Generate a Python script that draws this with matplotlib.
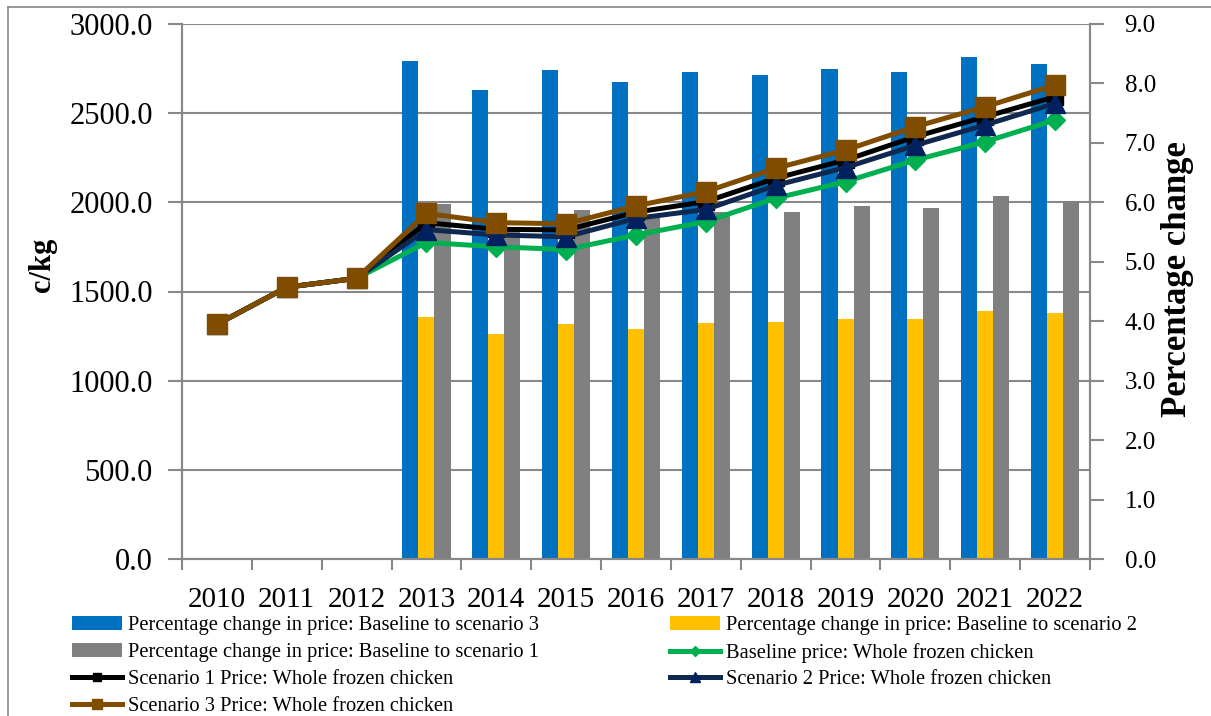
import matplotlib
matplotlib.use("Agg")
import matplotlib.pyplot as plt
from matplotlib.lines import Line2D
import numpy as np

years = ["2010", "2011", "2012", "2013", "2014", "2015", "2016",
         "2017", "2018", "2019", "2020", "2021", "2022"]
bar_start = 3  # percentage-change bars only from 2013

# percentage change (right axis)
pct_s3 = [8.37, 7.89, 8.23, 8.02, 8.19, 8.14, 8.24, 8.19, 8.44, 8.32]
pct_s2 = [4.07, 3.79, 3.95, 3.87, 3.97, 3.98, 4.04, 4.04, 4.17, 4.13]
pct_s1 = [5.98, 5.55, 5.87, 5.77, 5.83, 5.84, 5.94, 5.91, 6.10, 6.02]

# prices c/kg (left axis)
price_base = [1316, 1524, 1574, 1775, 1751, 1735, 1817, 1892, 2023, 2116, 2237, 2340, 2462]
price_s1 = [1316, 1524, 1574, 1886, 1849, 1845, 1945, 2004, 2135, 2237, 2368, 2480, 2592]
price_s2 = [1316, 1524, 1574, 1847, 1817, 1807, 1910, 1960, 2095, 2195, 2320, 2434, 2555]
price_s3 = [1316, 1524, 1574, 1938, 1886, 1880, 1980, 2060, 2191, 2293, 2424, 2536, 2658]

plt.rcParams['font.family'] = ['Liberation Serif', 'DejaVu Serif']
GRID = '#888888'

W, H = 1211, 716
fig = plt.figure(figsize=(W / 100, H / 100), dpi=100)
ax = fig.add_axes([182 / W, 1 - 559 / H, (1090 - 182) / W, (559 - 24) / H])
ax2 = ax.twinx()
# lines (left axis) must sit above the bars (right axis)
ax.set_zorder(ax2.get_zorder() + 1)
ax.patch.set_visible(False)

x = np.arange(len(years))
xb = x[bar_start:]
bw = 0.23
b3 = ax2.bar(xb - bw, pct_s3, bw, color='#0070C0', zorder=2)
b2 = ax2.bar(xb, pct_s2, bw, color='#FFC000', zorder=2)
b1 = ax2.bar(xb + bw, pct_s1, bw, color='#808080', zorder=2)

lw = 3.6
l0, = ax.plot(x, price_base, color='#00B050', lw=lw, marker='D', ms=10, zorder=3)
l1, = ax.plot(x, price_s1, color='#000000', lw=lw, marker='s', ms=12, zorder=4)
l2, = ax.plot(x, price_s2, color='#0F2850', lw=lw, marker='^', ms=14,
              mfc='#002060', mec='#002060', zorder=5)
l3, = ax.plot(x, price_s3, color='#7F4C00', lw=lw, marker='s', ms=15, zorder=6)

ax.set_ylim(0, 3000)
ax.set_yticks(np.arange(0, 3001, 500))
ax.set_yticklabels([f"{v:.1f}" for v in np.arange(0, 3001, 500)])
ax2.set_ylim(0, 9)
ax2.set_yticks(np.arange(0, 9.1, 1))
ax2.set_yticklabels([f"{v:.1f}" for v in np.arange(0, 9.1, 1)])

# horizontal gridlines at the left axis ticks, drawn behind the bars
for t in ax.get_yticks():
    ax2.axhline(t * 9 / 3000, color=GRID, lw=1.5, zorder=0)

ax.set_xlim(-0.5, len(years) - 0.5)
ax.set_xticks(np.arange(-0.5, len(years), 1))
ax.set_xticklabels([])
ax.set_xticks(x, minor=True)
ax.set_xticklabels(years, minor=True)
ax.tick_params(axis='x', which='major', length=8, width=1.5, color=GRID, direction='out')
ax.tick_params(axis='x', which='minor', length=0, pad=20, labelsize=21)
ax.tick_params(axis='y', length=10, width=1.5, color=GRID, pad=11, labelsize=22)
ax2.tick_params(axis='y', length=10, width=1.5, color=GRID, pad=15, labelsize=18)

for a in (ax, ax2):
    for s in a.spines.values():
        s.set_color(GRID)
        s.set_linewidth(1.5)
    a.spines['top'].set_visible(False)

fig.text(43 / W, 1 - 265 / H, "c/kg", fontsize=22, fontweight='bold',
         rotation=90, ha='center', va='center')
fig.text(1178 / W, 1 - 279 / H, "Percentage change", fontsize=25, fontweight='bold',
         rotation=90, ha='center', va='center')

leg_kw = dict(frameon=False, fontsize=14.8, loc='upper left', borderpad=0,
              borderaxespad=0, handlelength=2.45, handletextpad=0.28,
              labelspacing=0.36, markerscale=0.5)
lab_s3 = "Percentage change in price: Baseline to scenario 3"
lab_s2 = "Percentage change in price: Baseline to scenario 2"
lab_s1 = "Percentage change in price: Baseline to scenario 1"
lab_base = "Baseline price: Whole frozen chicken"
lab_p1 = "Scenario 1 Price: Whole frozen chicken"
lab_p2 = "Scenario 2 Price: Whole frozen chicken"
lab_p3 = "Scenario 3 Price: Whole frozen chicken"
fig.legend([b3, b1, l1, l3], [lab_s3, lab_s1, lab_p1, lab_p3],
           bbox_to_anchor=(72 / W, 1 - 616 / H), **leg_kw)
fig.legend([b2, l0, l2], [lab_s2, lab_base, lab_p2],
           bbox_to_anchor=(670 / W, 1 - 616 / H), **leg_kw)

# chart-area border (top and left edges visible in the original)
fig.add_artist(Line2D([8 / W, 1], [1 - 7 / H, 1 - 7 / H], color=GRID, lw=1.2))
fig.add_artist(Line2D([8 / W, 8 / W], [0, 1 - 7 / H], color=GRID, lw=1.2))

fig.savefig("out.png", dpi=100)
